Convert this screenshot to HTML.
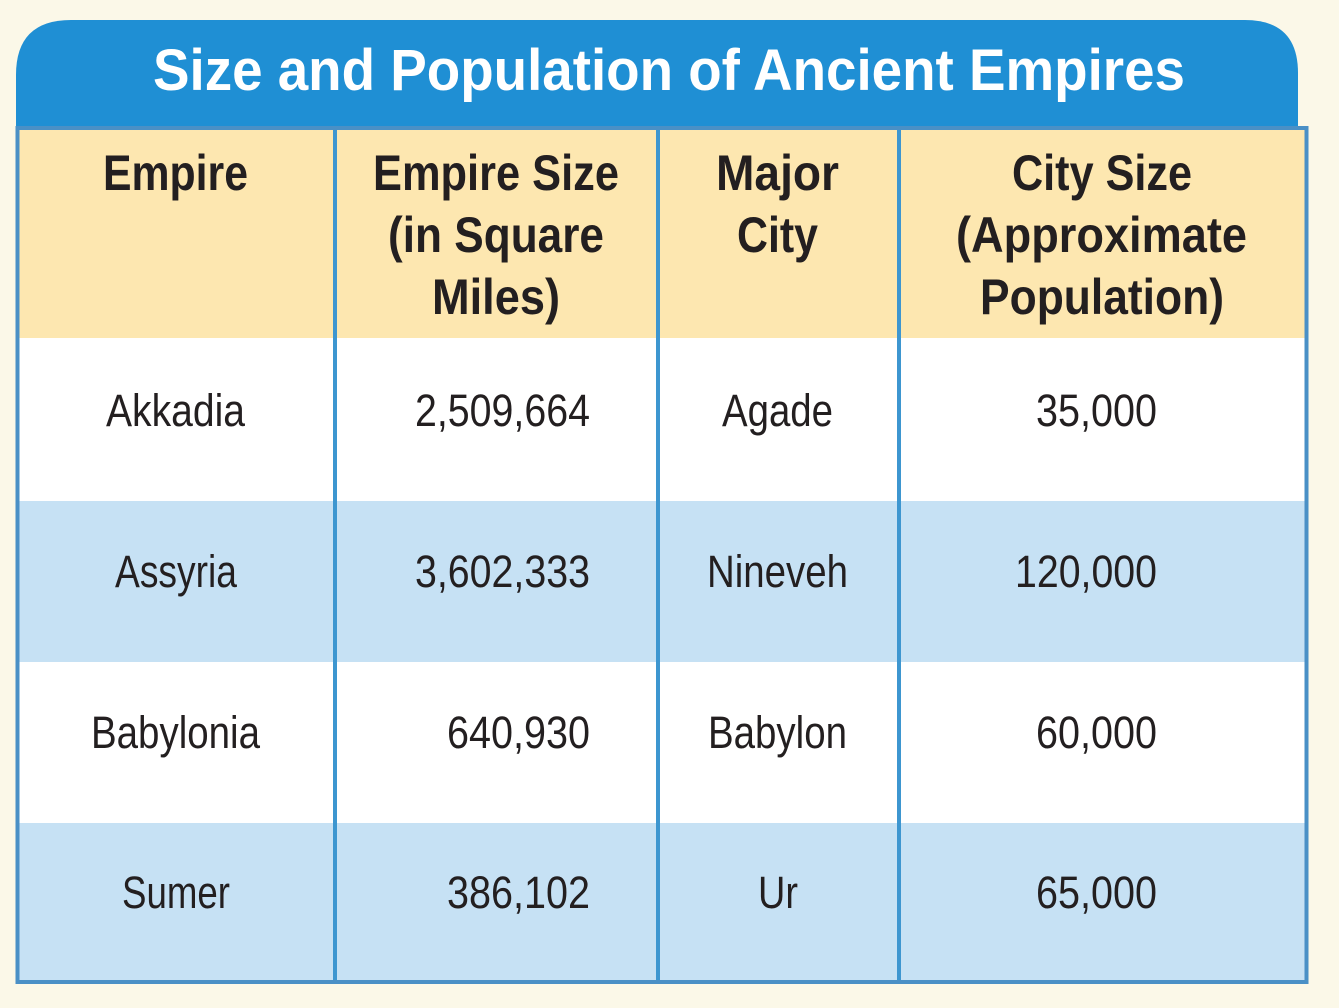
<!DOCTYPE html>
<html><head><meta charset="utf-8"><style>
html,body{margin:0;padding:0;background:#fbf8e8;}
svg{display:block}
</style></head><body>
<svg width="1339" height="1008" viewBox="0 0 1339 1008" xmlns="http://www.w3.org/2000/svg">
<rect width="1339" height="1008" fill="#fbf8e8"/>
<path d="M16,128 L16,75 Q16,20 71,20 L1245,20 Q1298,20 1298,73 L1298,128 Z" fill="#1f8fd4"/>
<rect x="18" y="128" width="1288" height="210" fill="#fde7b0"/>
<rect x="18" y="338" width="1288" height="163" fill="#ffffff"/>
<rect x="18" y="501" width="1288" height="161" fill="#c6e1f4"/>
<rect x="18" y="662" width="1288" height="161" fill="#ffffff"/>
<rect x="18" y="823" width="1288" height="159" fill="#c6e1f4"/>
<g stroke="#3d96d0" stroke-width="4">
<line x1="335" y1="128" x2="335" y2="982"/>
<line x1="658" y1="128" x2="658" y2="982"/>
<line x1="899" y1="128" x2="899" y2="982"/>
</g>
<rect x="17.5" y="128" width="1289" height="854" fill="none" stroke="#4a90c6" stroke-width="4"/>
<g font-family="Liberation Sans, sans-serif" font-weight="bold" fill="#fff">
<text x="153" y="90" font-size="58" textLength="1032" lengthAdjust="spacingAndGlyphs">Size and Population of Ancient Empires</text>
</g>
<g font-family="Liberation Sans, sans-serif" font-weight="bold" fill="#231f20" font-size="50">
<text x="103" y="190" textLength="145" lengthAdjust="spacingAndGlyphs">Empire</text>
<text x="373" y="190" textLength="246" lengthAdjust="spacingAndGlyphs">Empire Size</text>
<text x="388" y="252" textLength="216" lengthAdjust="spacingAndGlyphs">(in Square</text>
<text x="432" y="314" textLength="128" lengthAdjust="spacingAndGlyphs">Miles)</text>
<text x="716" y="190" textLength="123" lengthAdjust="spacingAndGlyphs">Major</text>
<text x="737" y="252" textLength="81" lengthAdjust="spacingAndGlyphs">City</text>
<text x="1012" y="190" textLength="180" lengthAdjust="spacingAndGlyphs">City Size</text>
<text x="956" y="252" textLength="291" lengthAdjust="spacingAndGlyphs">(Approximate</text>
<text x="980" y="314" textLength="244" lengthAdjust="spacingAndGlyphs">Population)</text>
</g>
<g font-family="Liberation Sans, sans-serif" fill="#231f20" font-size="45">
<text x="106" y="426" textLength="139" lengthAdjust="spacingAndGlyphs">Akkadia</text>
<text x="415" y="426" textLength="175" lengthAdjust="spacingAndGlyphs">2,509,664</text>
<text x="722" y="426" textLength="111" lengthAdjust="spacingAndGlyphs">Agade</text>
<text x="1036" y="426" textLength="121" lengthAdjust="spacingAndGlyphs">35,000</text>
<text x="115" y="587" textLength="122" lengthAdjust="spacingAndGlyphs">Assyria</text>
<text x="415" y="587" textLength="175" lengthAdjust="spacingAndGlyphs">3,602,333</text>
<text x="707" y="587" textLength="141" lengthAdjust="spacingAndGlyphs">Nineveh</text>
<text x="1015" y="587" textLength="142" lengthAdjust="spacingAndGlyphs">120,000</text>
<text x="91" y="748" textLength="169" lengthAdjust="spacingAndGlyphs">Babylonia</text>
<text x="447" y="748" textLength="143" lengthAdjust="spacingAndGlyphs">640,930</text>
<text x="708" y="748" textLength="139" lengthAdjust="spacingAndGlyphs">Babylon</text>
<text x="1036" y="748" textLength="121" lengthAdjust="spacingAndGlyphs">60,000</text>
<text x="122" y="908" textLength="108" lengthAdjust="spacingAndGlyphs">Sumer</text>
<text x="447" y="908" textLength="143" lengthAdjust="spacingAndGlyphs">386,102</text>
<text x="758" y="908" textLength="40" lengthAdjust="spacingAndGlyphs">Ur</text>
<text x="1036" y="908" textLength="121" lengthAdjust="spacingAndGlyphs">65,000</text>
</g>
</svg>
</body></html>
